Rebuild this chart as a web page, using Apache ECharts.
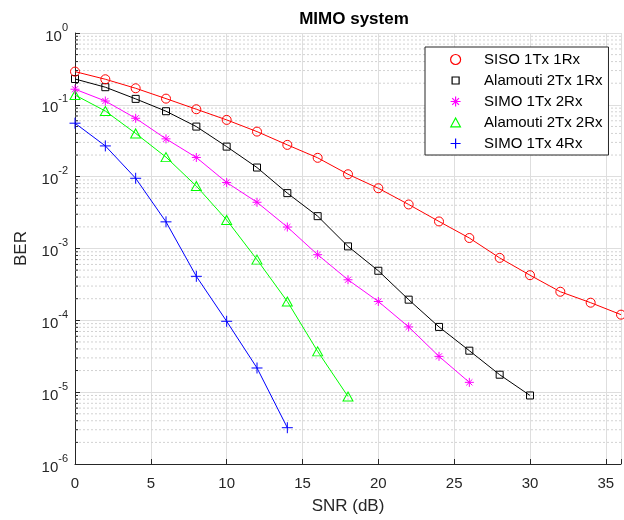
<!DOCTYPE html>
<html><head><meta charset="utf-8">
<script src="https://cdn.jsdelivr.net/npm/echarts@6/dist/echarts.min.js"></script>
<style>html,body{margin:0;padding:0;background:#fff}#c{width:624px;height:520px}</style>
</head><body><div id="c"></div>
<script>
// ---- data ----
const snrDb = [0,2,4,6,8,10,12,14,16,18,20,22,24,26,28,30,32,34,36];
const sisoBER = [0.29,0.227,0.170,0.122,0.0868,0.0617,0.0424,0.0277,0.0183,0.0108,0.0069,0.0041,0.00238,0.0014,7.4e-4,4.25e-4,2.5e-4,1.76e-4,1.2e-4];
const alamouti21BER = [0.229,0.176,0.121,0.0815,0.0498,0.0262,0.0134,0.0059,0.00282,0.00107,4.9e-4,1.94e-4,8.1e-5,3.78e-5,1.75e-5,9.0e-6];
const simo12BER = [0.165,0.113,0.065,0.0336,0.0185,0.0083,0.0044,0.00199,8.2e-4,3.67e-4,1.83e-4,8.1e-5,3.15e-5,1.37e-5];
const alamouti22BER = [0.137,0.082,0.040,0.0187,0.0074,0.0025,7.0e-4,1.83e-4,3.7e-5,8.7e-6];
const simo14BER = [0.0555,0.0268,0.0095,0.00235,4.1e-4,9.7e-5,2.17e-5,3.2e-6];
const seriesNames = ['SISO 1Tx 1Rx','Alamouti 2Tx 1Rx','SIMO 1Tx 2Rx','Alamouti 2Tx 2Rx','SIMO 1Tx 4Rx'];
const xTicks = [0,5,10,15,20,25,30,35];
const yDecades = [-6,-5,-4,-3,-2,-1,0];
const minorMultipliers = [2,3,4,5,6,7,8,9];

// ---- styling ----
const FONT = '"Liberation Sans", Arial, Helvetica, sans-serif';
const AX = '#262626';
const PLUS = 'path://M0,5L10,5M5,0L5,10';
const STAR = 'path://M0,5L10,5M5,0L5,10M1.6,1.6L8.4,8.4M1.6,8.4L8.4,1.6';
const SQUARE_SMALL = 'path://M0,0M10,10M1.5,1.5L8.5,1.5L8.5,8.5L1.5,8.5Z';
const TRI = 'path://M0,0M10,10M5,0.5L9.8,9.3L0.2,9.3Z';
const styles = [
  {color:'#ff0000', symbol:'circle', size:9, legendIcon:'circle'},
  {color:'#000000', symbol:'rect', size:7, legendIcon:SQUARE_SMALL},
  {color:'#ff00ff', symbol:STAR, size:9, legendIcon:STAR},
  {color:'#00ff00', symbol:'triangle', size:[10,9], legendIcon:TRI},
  {color:'#0000ff', symbol:PLUS, size:11, legendIcon:PLUS}
];
const dataSets = [sisoBER, alamouti21BER, simo12BER, alamouti22BER, simo14BER];

const minorVals = [];
yDecades.slice(0,-1).forEach(d => minorMultipliers.forEach(m => minorVals.push(m*Math.pow(10,d))));

const series = [];
// minor grid (dotted) and minor ticks on the y axis, drawn through the axes
minorVals.forEach(v => {
  series.push({
    type: 'line', data: [[0, v], [36, v]], symbol: 'none', silent: true, z: 1,
    lineStyle: {color: '#d2d2d2', width: 1, type: [2, 2]}, emphasis: {disabled: true}
  });
  series.push({
    type: 'line', data: [[0, v], [0.2, v]], symbol: 'none', silent: true, z: 5,
    lineStyle: {color: AX, width: 1}, emphasis: {disabled: true}
  });
});
dataSets.forEach((arr,k) => series.push({
  name: seriesNames[k],
  type: 'line',
  data: arr.map((v,i) => [snrDb[i], v]),
  symbol: styles[k].symbol,
  symbolSize: styles[k].size,
  showAllSymbol: true,
  clip: false,
  z: 10 - k,
  lineStyle: {color: styles[k].color, width: 1},
  itemStyle: {color: 'rgba(0,0,0,0)', borderColor: styles[k].color, borderWidth: 1},
  emphasis: {disabled: true}
}));

const option = {
  backgroundColor: '#fff',
  animation: false,
  title: {
    text: 'MIMO system', left: 349, top: 6, textAlign: 'center',
    textStyle: {fontFamily: FONT, fontSize: 17, fontWeight: 'bold', color: '#000'}
  },
  grid: {left: 75, top: 33, right: 2, bottom: 56, containLabel: false},
  legend: {
    orient: 'vertical', left: 425, top: 47,
    padding: [5, 6, 4, 25],
    itemWidth: 47, itemHeight: 10, itemGap: 6,
    backgroundColor: '#fff', borderColor: AX, borderWidth: 1,
    textStyle: {fontFamily: FONT, fontSize: 15, color: '#000', lineHeight: 15},
    selectedMode: false,
    data: seriesNames.map((n,k) => ({
      name: n, icon: styles[k].legendIcon,
      itemStyle: {color: 'rgba(0,0,0,0)', borderColor: styles[k].color, borderWidth: 1.2}
    }))
  },
  xAxis: {
    type: 'value', min: 0, max: 36, interval: 5,
    name: 'SNR (dB)', nameLocation: 'middle', nameGap: 34,
    nameTextStyle: {fontFamily: FONT, fontSize: 17, color: AX},
    axisLine: {show: true, onZero: false, lineStyle: {color: AX, width: 1}},
    axisTick: {show: true, inside: true, length: 5, lineStyle: {color: AX}},
    axisLabel: {
      fontFamily: FONT, fontSize: 15, color: AX, margin: 12,
      formatter: v => xTicks.includes(v) ? String(v) : ''
    },
    splitLine: {show: true, lineStyle: {color: '#dedede', width: 1}}
  },
  yAxis: {
    type: 'log', logBase: 10, min: 1e-6, max: 1, interval: 1, splitNumber: 6,
    name: 'BER', nameLocation: 'middle', nameGap: 45,
    nameTextStyle: {fontFamily: FONT, fontSize: 17, color: AX},
    axisLine: {show: true, onZero: false, lineStyle: {color: AX, width: 1}},
    axisTick: {show: true, inside: true, length: 5, lineStyle: {color: AX}},
    axisLabel: {
      fontFamily: FONT, color: AX, margin: 7,
      formatter: v => '{b|10}{s|' + Math.round(Math.log10(v)) + '}',
      rich: {
        b: {fontFamily: FONT, fontSize: 15, color: AX, verticalAlign: 'bottom', lineHeight: 22},
        s: {fontFamily: FONT, fontSize: 11, color: AX, verticalAlign: 'top', lineHeight: 22}
      }
    },
    splitLine: {show: true, lineStyle: {color: '#dedede', width: 1}}
  },
  series: series
};

const chart = echarts.init(document.getElementById('c'), null, {renderer: 'canvas'});
chart.setOption(option);
</script>
</body></html>
